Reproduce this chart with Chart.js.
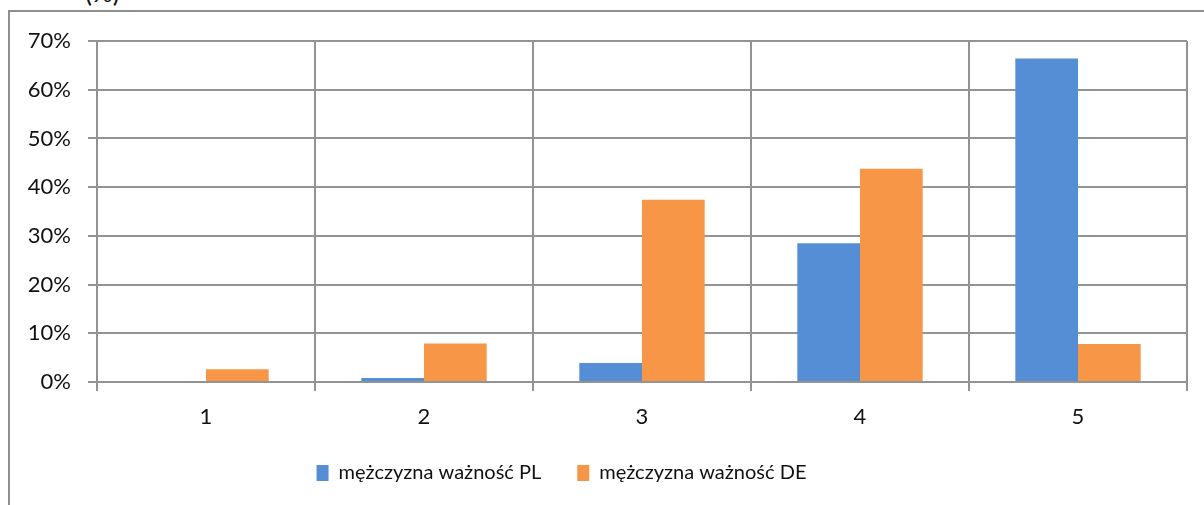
<!DOCTYPE html>
<html>
<head>
<meta charset="utf-8">
<script src="https://cdn.jsdelivr.net/npm/chart.js@4.4.1/dist/chart.umd.min.js"></script>
<style>
  html, body { margin: 0; padding: 0; background: #fff; }
  #wrap { position: relative; width: 1204px; height: 505px; overflow: hidden; }
  #frame {
    position: absolute; left: 8px; top: 10px; width: 1210px; height: 520px;
    border-left: 2px solid #8f8f8f; border-top: 2px solid #8f8f8f;
  }
  #title {
    position: absolute; left: 85px; top: -21px;
    font: 26px Lato, sans-serif; line-height: 26px; color: #111;
  }
  #chart { position: absolute; left: 0; top: 0; }
</style>
</head>
<body>
<div id="wrap">
  <div id="frame"></div>
  <div id="title">(%)</div>
  <canvas id="chart" width="1204" height="505"></canvas>
</div>
<script>
// values, in percent
const categories = ["1", "2", "3", "4", "5"];
const plValues = [0, 0.8, 3.9, 28.5, 66.4];
const deValues = [2.6, 7.9, 37.4, 43.8, 7.8];
const seriesLabels = ["mężczyzna ważność PL", "mężczyzna ważność DE"];
const yTicks = [0, 10, 20, 30, 40, 50, 60, 70];

const gridColor = "#939393";
const textColor = "#111111";
const fontFamily = "Lato, 'Liberation Sans', sans-serif";

// legend sits a bit left of centre in the original
const legendShift = {
  id: "legendShift",
  afterLayout(chart) {
    const lg = chart.legend;
    if (lg) { lg.left -= 32; lg.right -= 32; }
  },
};

const ctx = document.getElementById("chart").getContext("2d");

new Chart(ctx, {
  type: "bar",
  data: {
    labels: categories,
    datasets: [
      {
        label: seriesLabels[0],
        data: plValues,
        backgroundColor: "#558ED5",
        categoryPercentage: 0.575,
        barPercentage: 1.0,
      },
      {
        label: seriesLabels[1],
        data: deValues,
        backgroundColor: "#F79646",
        categoryPercentage: 0.575,
        barPercentage: 1.0,
      },
    ],
  },
  plugins: [legendShift],
  options: {
    responsive: false,
    animation: false,
    layout: {
      padding: { left: 0, right: 17, top: 41, bottom: 12 },
    },
    plugins: {
      tooltip: { enabled: false },
      legend: {
        position: "bottom",
        labels: {
          color: textColor,
          font: { family: fontFamily, size: 20 },
          boxWidth: 12,
          boxHeight: 16,
          padding: 36,
        },
      },
    },
    scales: {
      x: {
        offset: true,
        grid: {
          offset: true,
          color: gridColor,
          lineWidth: 2,
          drawTicks: true,
          tickLength: 9,
        },
        border: { color: gridColor, width: 2 },
        ticks: {
          color: textColor,
          font: { family: fontFamily, size: 22 },
          padding: 13,
        },
        afterFit: (scale) => { scale.height = 45; },
      },
      y: {
        min: 0,
        max: 70,
        afterBuildTicks: (scale) => {
          scale.ticks = yTicks.map((v) => ({ value: v }));
        },
        grid: {
          color: gridColor,
          lineWidth: 2,
          drawTicks: true,
          tickLength: 9,
        },
        border: { color: gridColor, width: 2 },
        ticks: {
          color: textColor,
          font: { family: fontFamily, size: 22 },
          padding: 17,
          callback: (v) => v + "%",
        },
        afterFit: (scale) => { scale.width = 97; },
      },
    },
  },
});
</script>
</body>
</html>
